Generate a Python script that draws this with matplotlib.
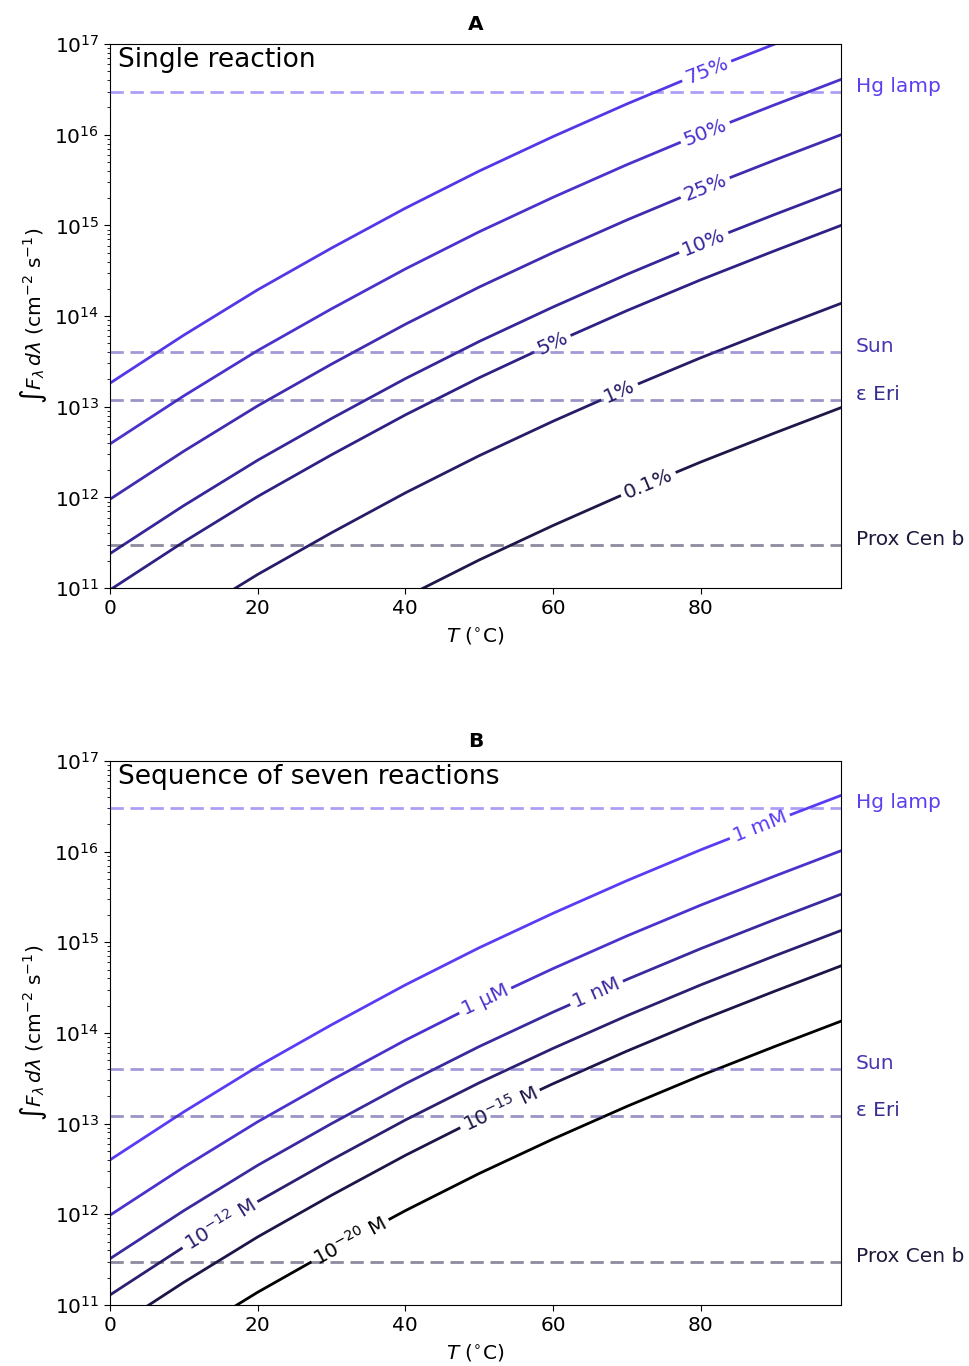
import numpy as np
import matplotlib.pyplot as plt

# temperature grid (deg C) at which curves were read
T = [0, 10, 20, 30, 40, 50, 60, 70, 80, 90, 99]

# panel A: log10 of integrated flux for a given yield of a single reaction
logF_75 = [13.26, 13.79, 14.29, 14.75, 15.19, 15.60, 15.98, 16.34, 16.68, 17.00, 17.28]
logF_50 = [12.59, 13.12, 13.62, 14.08, 14.52, 14.93, 15.31, 15.67, 16.01, 16.33, 16.61]
logF_25 = [11.98, 12.51, 13.01, 13.47, 13.91, 14.32, 14.70, 15.06, 15.40, 15.72, 16.00]
logF_10 = [11.38, 11.91, 12.41, 12.87, 13.31, 13.72, 14.10, 14.46, 14.80, 15.12, 15.40]
logF_5 = [10.98, 11.51, 12.01, 12.47, 12.91, 13.32, 13.70, 14.06, 14.40, 14.72, 15.00]
logF_1 = [10.12, 10.65, 11.15, 11.61, 12.05, 12.46, 12.84, 13.20, 13.54, 13.86, 14.14]
logF_01 = [8.97, 9.50, 10.00, 10.46, 10.90, 11.31, 11.69, 12.05, 12.39, 12.71, 12.99]
yield_labels = ['75%', '50%', '25%', '10%', '5%', '1%', '0.1%']
yield_colors = ['#5438e8', '#4a33cc', '#3f2cb0', '#35269a', '#2e2185', '#261c68', '#1e1848']
yield_label_T = [80.8, 80.6, 80.6, 80.4, 59.9, 69.0, 72.9]

# panel B: log10 of integrated flux for a product concentration after seven reactions
logF_mM = [12.60, 13.13, 13.63, 14.09, 14.53, 14.94, 15.32, 15.68, 16.02, 16.34, 16.62]
logF_uM = [11.99, 12.52, 13.02, 13.48, 13.92, 14.33, 14.71, 15.07, 15.41, 15.73, 16.01]
logF_nM = [11.51, 12.04, 12.54, 13.00, 13.44, 13.85, 14.23, 14.59, 14.93, 15.25, 15.53]
logF_e12 = [11.11, 11.64, 12.14, 12.60, 13.04, 13.45, 13.83, 14.19, 14.53, 14.85, 15.13]
logF_e15 = [10.72, 11.25, 11.75, 12.21, 12.65, 13.06, 13.44, 13.80, 14.14, 14.46, 14.74]
logF_e20 = [10.11, 10.64, 11.14, 11.60, 12.04, 12.45, 12.83, 13.19, 13.53, 13.85, 14.13]
conc_labels = ['1 mM', '1 μM', '1 nM', '10$^{-12}$ M', '10$^{-15}$ M', '10$^{-20}$ M']
conc_colors = ['#5a3cf5', '#4a33cc', '#3a2a9f', '#2a1f70', '#1c1548', '#000000']
conc_label_T = [88.0, 50.8, 65.9, 14.9, 52.8, 32.5]

# light sources
sources = ['Hg lamp', 'Sun', 'ε Eri', 'Prox Cen b']
source_flux = [3e16, 4e13, 1.2e13, 3e11]
source_colors = ['#5b3ff0', '#4735b3', '#352b91', '#1d193d']

FS = 14.5


def draw_panel(ax, title, note, curves, colors, labels, label_T):
    ax.set_yscale('log')
    ax.set_xlim(0, 99)
    ax.set_ylim(1e11, 1e17)
    ax.set_xticks([0, 20, 40, 60, 80])
    ax.tick_params(labelsize=FS)
    ax.tick_params(which='major', length=4.2)
    ax.tick_params(which='minor', length=2.4)

    for logF, c in zip(curves, colors):
        ax.plot(T, 10 ** np.array(logF), color=c, lw=2, zorder=2)

    for name, F, c in zip(sources, source_flux, source_colors):
        ax.axhline(F, color=c, alpha=0.5, lw=2, dashes=(4.8, 2.4), zorder=4)
        ax.text(1.02, F, name, color=c, fontsize=FS, va='baseline',
                transform=ax.get_yaxis_transform())

    # inline labels on the curves
    for logF, c, lab, tl in zip(curves, colors, labels, label_T):
        y = 10 ** np.interp(tl, T, logF)
        p1 = ax.transData.transform((tl - 1, 10 ** np.interp(tl - 1, T, logF)))
        p2 = ax.transData.transform((tl + 1, 10 ** np.interp(tl + 1, T, logF)))
        ang = np.degrees(np.arctan2(p2[1] - p1[1], p2[0] - p1[0]))
        kw = dict(rotation=ang, rotation_mode='anchor', ha='center', va='center', fontsize=FS)
        ax.text(tl, y, lab, color='none', zorder=3,
                bbox=dict(boxstyle='square,pad=0.2', fc='white', ec='none'), **kw)
        ax.text(tl, y, lab, color=c, zorder=5, **kw)

    ax.text(0.011, 0.995, note, transform=ax.transAxes, fontsize=19, va='top')
    ax.set_title(title, fontweight='bold', fontsize=FS, pad=10)
    ax.set_xlabel(r'$T$ ($^{\circ}$C)', fontsize=FS, labelpad=5.5)
    ax.set_ylabel(r'$\int F_\lambda\, d\lambda$ (cm$^{-2}$ s$^{-1}$)', fontsize=FS)


fig = plt.figure(figsize=(9.69, 13.66), dpi=100)
axA = fig.add_axes([0.1135, 0.5695, 0.7544, 0.3982])
axB = fig.add_axes([0.1135, 0.0447, 0.7544, 0.3982])

draw_panel(axA, 'A', 'Single reaction',
           [logF_75, logF_50, logF_25, logF_10, logF_5, logF_1, logF_01],
           yield_colors, yield_labels, yield_label_T)
draw_panel(axB, 'B', 'Sequence of seven reactions',
           [logF_mM, logF_uM, logF_nM, logF_e12, logF_e15, logF_e20],
           conc_colors, conc_labels, conc_label_T)

fig.savefig('out.png', dpi=100)
